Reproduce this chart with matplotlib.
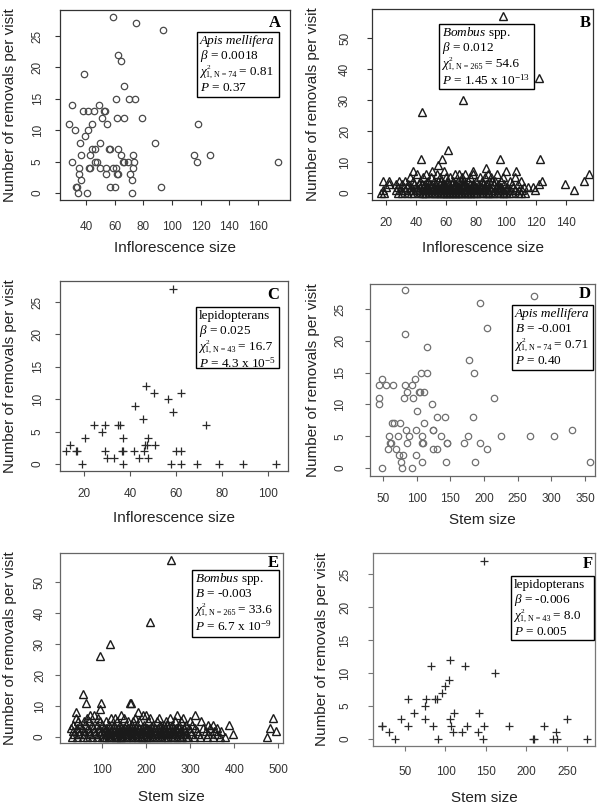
import matplotlib
matplotlib.use('Agg')
import matplotlib.pyplot as plt
from matplotlib.patches import Rectangle

plt.rcParams['font.family'] = ['Liberation Sans', 'DejaVu Sans']
plt.rcParams['mathtext.fontset'] = 'custom'
plt.rcParams['mathtext.rm'] = 'Liberation Serif'
plt.rcParams['mathtext.it'] = 'Liberation Serif:italic'
plt.rcParams['mathtext.bf'] = 'Liberation Serif:bold'

# ---------------- data ----------------
# A: Apis mellifera vs inflorescence size
apis_infl_x = [58.6, 74.7, 94, 62, 64.7, 38.6, 66.8,
               60.7, 70, 74,
               30, 49,
               38, 41.6, 45.3, 52.6, 53,
               51, 61.5, 66.8, 79,
               28.4, 44.2, 54.7, 118.3,
               32.5, 41.4,
               39.5,
               35.8, 49.6, 88,
               44.2, 46.5, 56.3, 56.8, 62,
               36.5, 42.6, 64.7, 72.6, 115.3, 126.2,
               30.4, 46, 48, 65.6, 66.4, 69, 73.5, 117.4, 174,
               35, 41.9, 42.6, 49.6, 54, 59, 61, 73,
               35, 53.8, 61.5, 62, 71,
               36.5, 72,
               33, 33.5, 56.8, 60, 92,
               34.4, 40.5, 72]
apis_infl_y = [28, 27, 26, 22, 21, 19, 17,
               15, 15, 15,
               14, 14,
               13, 13, 13, 13, 13,
               12, 12, 12, 12,
               11, 11, 11, 11,
               10, 10,
               9,
               8, 8, 8,
               7, 7, 7, 7, 7,
               6, 6, 6, 6, 6, 6,
               5, 5, 5, 5, 5, 5, 5, 5, 5,
               4, 4, 4, 4, 4, 4, 4, 4,
               3, 3, 3, 3, 3,
               2, 2,
               1, 1, 1, 1, 1,
               0, 0, 0]

# B: Bombus vs inflorescence size
bombus_infl_out_x = [98, 122, 71.6, 44.3, 61.6, 43.2, 57.6, 96, 122.8, 86.6, 55,
                     139.5, 145.3, 152, 155.6, 124, 122.3, 118, 119.6,
                     16.9, 18.7, 18.2, 17.8, 22.2, 21.8, 20]
bombus_infl_out_y = [57, 37, 30, 26, 14, 11, 11, 11, 11, 8, 9,
                     3, 1, 4, 6, 4, 3, 2, 1,
                     0, 0, 1, 4, 4, 3, 2]
bombus_infl_x_at7 = [38, 51, 59, 78, 100, 107]
bombus_infl_x_at6 = [41, 47, 54, 66, 69, 73, 78, 88, 94]
bombus_infl_x_at5 = [36, 45, 50, 56, 60, 63, 71, 76, 83, 86, 90, 98, 106]
bombus_infl_x_at4 = [29, 33, 38, 43, 48, 52, 55, 57, 61, 65, 68, 70, 72, 75, 80, 84,
                     89, 91, 93, 97, 103, 110]
bombus_infl_x_at3 = [27, 31, 35, 39, 42, 44, 46, 49, 53, 56, 58, 59, 62, 64, 66, 67,
                     70, 73, 76, 78, 79, 82, 85, 87, 88, 92, 95, 99, 104, 108, 50, 61, 72]
bombus_infl_x_at2 = [28, 32, 34, 37, 40, 43, 45, 47, 48, 50, 52, 54, 57, 58, 60, 61,
                     63, 65, 68, 69, 71, 74, 75, 77, 80, 83, 84, 86, 89, 91, 94, 96,
                     97, 101, 105, 112, 115, 55, 66, 79]
bombus_infl_x_at1 = [27, 30, 33, 36, 38, 41, 42, 44, 46, 49, 51, 53, 55, 57, 58, 60,
                     62, 63, 64, 66, 67, 70, 72, 73, 74, 77, 79, 81, 83, 85, 86, 88,
                     90, 93, 95, 96, 98, 100, 103, 106, 109, 111, 48, 56, 69, 76, 82]
bombus_infl_x_at0 = [28, 31, 34, 37, 39, 42, 44, 45, 47, 49, 51, 52, 53, 54, 56, 58,
                     59, 60, 61, 63, 64, 65, 66, 68, 69, 70, 71, 73, 75, 76, 77, 79,
                     81, 83, 85, 87, 88, 89, 91, 94, 96, 99, 100, 102, 105, 108, 110,
                     113, 46, 57, 62, 67, 74, 80, 92, 98]

# C: lepidopterans vs inflorescence size
lep_infl_x = [58.8, 46.9, 50.5, 62, 56.7, 42, 58.6, 45.8,
              24.2, 29.1, 35, 35.7, 73,
              27.8,
              20.3, 37.1, 47.9,
              13.9, 46.7, 47.3, 50.9,
              12.4, 16.5, 17.1, 29.1, 36.4, 36.8, 41.9, 46.1, 60.2, 62,
              30, 32.9, 43.8, 48,
              19.1, 37.1, 57.9, 62.1, 69, 78.8, 89, 103.6]
lep_infl_y = [27, 12, 11, 11, 10, 9, 8, 7,
              6, 6, 6, 6, 6,
              5,
              4, 4, 4,
              3, 3, 3, 3,
              2, 2, 2, 2, 2, 2, 2, 2, 2, 2,
              1, 1, 1, 1,
              0, 0, 0, 0, 0, 0, 0, 0]

# D: Apis mellifera vs stem size
apis_stem_x = [82.7, 274, 194, 82.7, 205, 116, 178,
               106, 115.5, 185,
               48.5, 97.6,
               44.5, 55, 65, 82.7, 93.6,
               103.6, 105.5, 85.2, 111,
               43.5, 81, 94.6, 214.6,
               43.5, 123.4,
               101,
               130, 142, 184,
               63.4, 67, 76, 111.5,
               83.7, 98.6, 124.4, 125, 330,
               58.4, 71.8, 88.7, 108.5, 136.8, 176, 225.6, 269, 304,
               61.4, 85.7, 108.5, 109, 145, 145.5, 171, 194, 60,
               57, 70, 125, 130, 205,
               79.8, 99.6, 74,
               76.8, 108.5, 143, 187, 357,
               48.5, 77.7, 93.6]
apis_stem_y = [28, 27, 26, 21, 22, 19, 17,
               15, 15, 15,
               14, 14,
               13, 13, 13, 13, 13,
               12, 12, 12, 12,
               11, 11, 11, 11,
               10, 10,
               9,
               8, 8, 8,
               7, 7, 7, 7,
               6, 6, 6, 6, 6,
               5, 5, 5, 5, 5, 5, 5, 5, 5,
               4, 4, 4, 4, 4, 4, 4, 4, 4,
               3, 3, 3, 3, 3,
               2, 2, 2,
               1, 1, 1, 1, 1,
               0, 0, 0]

# E: Bombus vs stem size
bombus_stem_out_x = [257, 209, 117, 95, 56, 64, 98, 164, 166, 95, 489, 482, 495, 474, 398, 388, 352]
bombus_stem_out_y = [57, 37, 30, 26, 14, 11, 11, 11, 11, 9, 6, 3, 2, 0, 1, 4, 4]
bombus_stem_x_at8 = [181, 40]
bombus_stem_x_at7 = [72, 82, 143, 192, 200, 270, 310]
bombus_stem_x_at6 = [40, 66, 90, 120, 130, 150, 175, 210, 230, 255, 285]
bombus_stem_x_at5 = [45, 58, 70, 95, 110, 135, 160, 170, 185, 205, 225, 245, 265, 280, 300, 325]
bombus_stem_x_at4 = [35, 50, 62, 78, 88, 100, 115, 128, 140, 155, 168, 180, 195, 215,
                     232, 240, 248, 260, 275, 290, 305, 340]
bombus_stem_x_at3 = [30, 42, 55, 68, 80, 92, 105, 110, 118, 130, 142, 152, 165, 178,
                     190, 200, 202, 214, 226, 238, 250, 262, 274, 286, 298, 312, 330,
                     345, 362, 124, 136, 147, 159, 171, 184, 196, 208, 220, 232, 244,
                     256, 268]
bombus_stem_x_at2 = [33, 46, 58, 70, 82, 94, 106, 117, 120, 128, 138, 148, 158, 160,
                     170, 182, 194, 206, 210, 218, 229, 240, 252, 264, 276, 280, 288,
                     300, 315, 335, 355, 370, 100, 112, 133, 143, 153, 165, 176, 188,
                     200, 212, 223, 235, 246, 258, 270]
bombus_stem_x_at1 = [36, 48, 60, 72, 84, 96, 108, 119, 125, 130, 141, 152, 163, 174,
                     175, 186, 197, 208, 220, 232, 235, 243, 255, 266, 278, 290, 303,
                     318, 340, 360, 102, 113, 135, 146, 158, 169, 180, 192, 203, 214,
                     226, 238, 249, 260, 272, 284]
bombus_stem_x_at0 = [32, 44, 56, 66, 77, 88, 99, 110, 121, 132, 140, 143, 154, 165,
                     176, 188, 190, 199, 210, 222, 234, 246, 250, 258, 270, 282, 295,
                     308, 322, 338, 352, 368, 380, 105, 115, 127, 137, 148, 160, 170,
                     182, 195, 205, 216, 228, 240, 264, 276, 290]

# F: lepidopterans vs stem size
lep_stem_x = [147.7, 105.7, 82, 123.8, 161.3, 104, 99.9, 96,
              54, 76, 86.7, 90,
              74.7,
              61, 110.6, 141.5,
              45.5, 74.3, 105.7, 250,
              21, 22, 54, 84.2, 107, 126.3, 147.3, 178.7, 221.6,
              30.6, 109.4, 121, 140.7, 236,
              38, 90.8, 146.5, 207.5, 209.6, 232.3, 237.2, 274.8]
lep_stem_y = [27, 12, 11, 11, 10, 9, 8, 7,
              6, 6, 6, 6,
              5,
              4, 4, 4,
              3, 3, 3, 3,
              2, 2, 2, 2, 2, 2, 2, 2, 2,
              1, 1, 1, 1, 1,
              0, 0, 0, 0, 0, 0, 0, 0]


def collect(out_x, out_y, groups):
    xs = list(out_x)
    ys = list(out_y)
    for count, vals in groups:
        xs += vals
        ys += [count] * len(vals)
    return xs, ys


bombus_infl_x, bombus_infl_y = collect(
    bombus_infl_out_x, bombus_infl_out_y,
    [(7, bombus_infl_x_at7), (6, bombus_infl_x_at6), (5, bombus_infl_x_at5),
     (4, bombus_infl_x_at4), (3, bombus_infl_x_at3), (2, bombus_infl_x_at2),
     (1, bombus_infl_x_at1), (0, bombus_infl_x_at0)])
bombus_stem_x, bombus_stem_y = collect(
    bombus_stem_out_x, bombus_stem_out_y,
    [(8, bombus_stem_x_at8), (7, bombus_stem_x_at7), (6, bombus_stem_x_at6),
     (5, bombus_stem_x_at5), (4, bombus_stem_x_at4), (3, bombus_stem_x_at3),
     (2, bombus_stem_x_at2), (1, bombus_stem_x_at1), (0, bombus_stem_x_at0)])

# ---------------- figure ----------------
W, H = 600, 808
fig = plt.figure(figsize=(W / 100, H / 100), dpi=100)
fig.patch.set_facecolor('white')
renderer = fig.canvas.get_renderer()

SERIF = ['Liberation Serif', 'DejaVu Serif']
BOXFS = 9.5


def px2fig(x, y):
    return x / W, 1 - y / H


def text_px(xp, yp, s, size, italic=False):
    fx, fy = px2fig(xp, yp)
    t = fig.text(fx, fy, s, ha='left', va='center', fontsize=size,
                 family=SERIF, style='italic' if italic else 'normal',
                 color='black', zorder=6)
    bb = t.get_window_extent(renderer=renderer)
    return bb.x1  # right edge in display pixels


def chi_line(xp, yp, n, val):
    r = text_px(xp, yp, '\u03c7', BOXFS, italic=True)
    xs = r + 0.5
    text_px(xs + 0.5, yp - 4.5, '2', 5.3)
    r2 = text_px(xs, yp + 2.5, '1, N = ' + n, 5.9)
    text_px(r2 + 2.5, yp, '= ' + val, BOXFS)


def make_panel(rect, xlim, ylim, xticks, yticks, xs, ys, marker, ms, color,
               xlabel, letter, letter_xy, box, lines, xpad, ypad,
               xlab_off, ylab_off, box_color):
    x0, y0, x1, y1 = rect
    ax = fig.add_axes([x0 / W, 1 - y1 / H, (x1 - x0) / W, (y1 - y0) / H])
    if marker == '+':
        ax.plot(xs, ys, linestyle='none', marker='+', ms=ms, mew=0.9, color=color)
    else:
        ax.plot(xs, ys, linestyle='none', marker=marker, ms=ms,
                mew=1.0 if marker == '^' else 0.9, mfc='none', mec=color)
    ax.set_xlim(*xlim)
    ax.set_ylim(*ylim)
    ax.set_xticks(xticks)
    ax.set_yticks(yticks)
    for s in ax.spines.values():
        s.set_color(box_color)
        s.set_linewidth(0.9)
    ax.tick_params(axis='both', direction='out', length=3.6, width=0.8,
                   color=box_color, labelcolor='#333333', labelsize=8.5)
    ax.tick_params(axis='x', pad=xpad)
    ax.tick_params(axis='y', pad=ypad, labelrotation=90)
    for lab in ax.get_yticklabels():
        lab.set_va('center')
        lab.set_ha('right')
    ax.set_xlabel(xlabel, fontsize=11, color='#222222')
    ax.set_ylabel('Number of removals per visit', fontsize=11, color='#222222')
    ax.xaxis.label.set_va('center')
    ax.yaxis.label.set_va('center')
    hpx = y1 - y0
    wpx = x1 - x0
    ax.xaxis.set_label_coords(0.5, -xlab_off / hpx)
    ax.yaxis.set_label_coords(-ylab_off / wpx, 0.5)

    # panel letter
    lx, ly = px2fig(*letter_xy)
    fig.text(lx, ly, letter, ha='center', va='center', fontsize=12,
             fontweight='bold', family=SERIF, color='black')

    # statistics box
    bx0, by0, bx1, by1 = box
    fx, fy = px2fig(bx0, by1)
    fig.add_artist(Rectangle((fx, fy), (bx1 - bx0) / W, (by1 - by0) / H,
                             transform=fig.transFigure, facecolor='white',
                             edgecolor='black', linewidth=1.0, zorder=5))
    name, name_italic, coef, n, chival, ptxt = lines
    text_px(bx0 + 3, by0 + 9, name, BOXFS, italic=name_italic)
    text_px(bx0 + 3, by0 + 24, coef, BOXFS)
    chi_line(bx0 + 3, by0 + 40, n, chival)
    text_px(bx0 + 3, by0 + 56, ptxt, BOXFS)
    return ax


make_panel((60, 10, 290, 200), (21.9, 182.3), (-1.11, 29.14),
           [40, 60, 80, 100, 120, 140, 160], [0, 5, 10, 15, 20, 25],
           apis_infl_x, apis_infl_y, 'o', 4.6, '#4a4a4a',
           'Inflorescence size', 'A', (275, 23), (197, 32, 279, 97),
           ('Apis mellifera', True, r'$\beta$ = 0.0018', '74', '0.81', r'$P$ = 0.37'),
           11.5, 8, 48, 50, '#333333')

make_panel((372, 9, 593, 200), (10.7, 158.0), (-2.26, 59.35),
           [20, 40, 60, 80, 100, 120, 140], [0, 10, 20, 30, 40, 50],
           bombus_infl_x, bombus_infl_y, '^', 5.3, '#1a1a1a',
           'Inflorescence size', 'B', (585, 23), (439, 24, 534, 89),
           (r'$Bombus$ spp.', False, r'$\beta$ = 0.012', '265', '54.6',
            r'$P$ = 1.45 x 10$^{-13}$'),
           9, 11.5, 48, 59, '#333333')

make_panel((60, 281, 288, 471), (9.6, 108.7), (-1.08, 28.24),
           [20, 40, 60, 80, 100], [0, 5, 10, 15, 20, 25],
           lep_infl_x, lep_infl_y, '+', 5.5, '#2a2a2a',
           'Inflorescence size', 'C', (273, 295), (196, 307, 279, 368),
           ('lepidopterans', False, r'$\beta$ = 0.025', '43', '16.7',
            r'$P$ = 4.3 x 10$^{-5}$'),
           9, 8, 47, 50, '#555555')

make_panel((370, 284, 595, 476), (30.7, 364.9), (-1.26, 28.93),
           [50, 100, 150, 200, 250, 300, 350], [0, 5, 10, 15, 20, 25],
           apis_stem_x, apis_stem_y, 'o', 4.6, '#707070',
           'Stem size', 'D', (585, 294), (512, 305, 593, 370),
           ('Apis mellifera', True, r'$B$ = -0.001', '74', '0.71', r'$P$ = 0.40'),
           8.5, 13.5, 44, 57, '#666666')

make_panel((60, 553, 283, 743), (4.5, 511.0), (-1.94, 59.35),
           [100, 200, 300, 400, 500], [0, 10, 20, 30, 40, 50],
           bombus_stem_x, bombus_stem_y, '^', 5.3, '#1a1a1a',
           'Stem size', 'E', (273, 563), (192, 570, 279, 637),
           (r'$Bombus$ spp.', False, r'$B$ = -0.003', '265', '33.6',
            r'$P$ = 6.7 x 10$^{-9}$'),
           11.5, 6.5, 54, 50, '#666666')

make_panel((373, 553, 595, 746), (10.5, 284.6), (-1.06, 28.18),
           [50, 100, 150, 200, 250], [0, 5, 10, 15, 20, 25],
           lep_stem_x, lep_stem_y, '+', 5.5, '#2a2a2a',
           'Stem size', 'F', (588, 564), (511, 576, 594, 640),
           ('lepidopterans', False, r'$\beta$ = -0.006', '43', '8.0', r'$P$ = 0.005'),
           10.8, 12, 52, 51, '#777777')

fig.savefig('out.png', dpi=100, facecolor='white')
